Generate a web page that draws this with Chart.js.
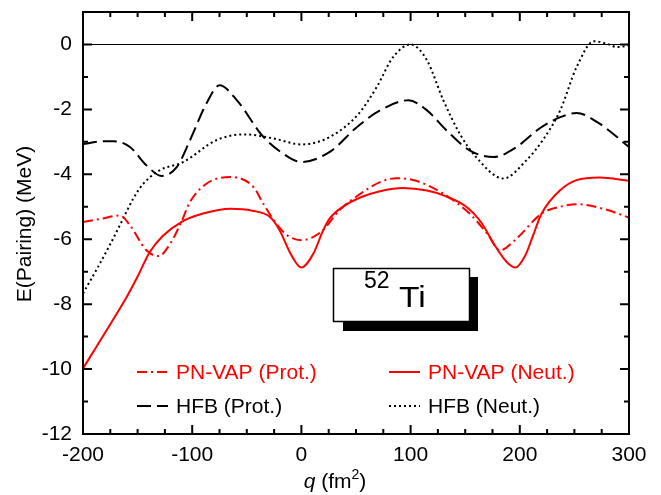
<!DOCTYPE html>
<html><head><meta charset="utf-8">
<script src="https://cdn.jsdelivr.net/npm/chart.js@4.4.0/dist/chart.umd.min.js"></script>
<style>html,body{margin:0;padding:0;background:#fff;}#wrap{width:661px;height:495px;}</style>
</head><body><div id="wrap"><canvas id="c" width="661" height="495"></canvas></div>
<script>
// ---- data ----
const xTickValues = [-200, -100, 0, 100, 200, 300];
const yTickValues = [-12, -10, -8, -6, -4, -2, 0];
const seriesLabels = ['PN-VAP (Prot.)', 'PN-VAP (Neut.)', 'HFB (Prot.)', 'HFB (Neut.)'];

const qVapP = [-200,-185,-166,-157,-142,-131,-120,-110,-102,-87,-65,-44,-35,-23,-13,0,18,35,54,72,87,105,130,154,170,182,197,220,237,252,276,300];
const eVapP = [-5.47,-5.38,-5.27,-5.57,-6.34,-6.52,-6.13,-5.47,-4.85,-4.29,-4.08,-4.39,-4.9,-5.52,-5.88,-6.03,-5.77,-5.1,-4.6,-4.24,-4.12,-4.2,-4.6,-5.21,-5.82,-6.34,-5.98,-5.21,-5.0,-4.92,-5.06,-5.33];

const qVapN = [-200,-188,-175,-160,-150,-139,-127,-110,-90,-65,-45,-29,-20,-10,0,11,20,26,38,55,72,93,115,130,151,165,176,188,196,205,212,220,237,252,273,300];
const eVapN = [-9.98,-9.33,-8.62,-7.78,-7.15,-6.4,-5.9,-5.47,-5.21,-5.06,-5.12,-5.31,-5.72,-6.44,-6.87,-6.44,-5.72,-5.36,-5.0,-4.7,-4.52,-4.42,-4.5,-4.65,-5.0,-5.5,-6.13,-6.7,-6.87,-6.5,-5.9,-5.21,-4.49,-4.18,-4.1,-4.2];

const qHfbP = [-200,-185,-172,-157,-142,-128,-114,-102,-87,-75,-59,-36,-19,0,26,51,72,98,115,133,154,176,197,218,237,252,273,300];
const eHfbP = [-3.07,-2.99,-2.98,-3.16,-3.72,-4.05,-3.77,-2.95,-1.82,-1.26,-1.72,-2.8,-3.31,-3.62,-3.31,-2.54,-2.03,-1.72,-2.03,-2.65,-3.26,-3.47,-3.16,-2.59,-2.24,-2.11,-2.44,-3.16];

const qHfbN = [-200,-187,-175,-163,-154,-145,-130,-108,-78,-52,-25,0,26,52,69,84,100,115,130,145,160,185,206,221,237,252,268,280,289,300];
const eHfbN = [-7.67,-6.9,-6.15,-5.35,-4.75,-4.3,-3.88,-3.62,-2.95,-2.77,-2.9,-3.08,-2.85,-2.15,-1.31,-0.39,0.0,-0.49,-1.72,-2.75,-3.47,-4.13,-3.57,-2.95,-2.03,-0.7,0.1,0.02,-0.08,-0.03];

const nucleusMass = '52';
const nucleusSymbol = 'Ti';

// ---- build ----
const toXY = (qs, es) => qs.map((q, i) => ({x: q, y: es[i]}));
const FONT = '"Liberation Sans", Arial, Helvetica, sans-serif';

const datasets = [
  {label: seriesLabels[0], data: toXY(qVapP, eVapP), borderColor: '#ff0000', borderWidth: 2, borderDash: [10,4,2,4]},
  {label: seriesLabels[1], data: toXY(qVapN, eVapN), borderColor: '#ff0000', borderWidth: 2, borderDash: []},
  {label: seriesLabels[2], data: toXY(qHfbP, eHfbP), borderColor: '#000000', borderWidth: 2, borderDash: [14,6]},
  {label: seriesLabels[3], data: toXY(qHfbN, eHfbN), borderColor: '#000000', borderWidth: 2, borderDash: [2,3]}
].map(d => Object.assign(d, {pointRadius: 0, fill: false, cubicInterpolationMode: 'monotone'}));

const framePlugin = {
  id: 'frame',
  beforeDatasetsDraw(chart) {
    const {ctx, chartArea: a, scales: {y}} = chart;
    ctx.save();
    ctx.strokeStyle = '#000'; ctx.lineWidth = 1;
    const py = Math.round(y.getPixelForValue(0)) + 0.5;
    ctx.beginPath(); ctx.moveTo(a.left, py); ctx.lineTo(a.right, py); ctx.stroke();
    ctx.restore();
  },
  afterDatasetsDraw(chart) {
    const {ctx, chartArea: a, scales: {x, y}} = chart;
    ctx.save();
    ctx.strokeStyle = '#000'; ctx.lineWidth = 2;
    ctx.strokeRect(a.left, a.top, a.right - a.left, a.bottom - a.top);
    ctx.beginPath();
    for (let v = x.min; v <= x.max + 1e-9; v += 25) {
      const px = x.getPixelForValue(v);
      const len = (Math.abs(v % 100) < 1e-9) ? 9 : 5;
      ctx.moveTo(px, a.bottom); ctx.lineTo(px, a.bottom - len);
      ctx.moveTo(px, a.top); ctx.lineTo(px, a.top + len);
    }
    for (let v = y.min; v <= y.max + 1e-9; v += 1) {
      const py = y.getPixelForValue(v);
      const len = (Math.abs(v % 2) < 1e-9) ? 9 : 5;
      ctx.moveTo(a.left, py); ctx.lineTo(a.left + len, py);
      ctx.moveTo(a.right, py); ctx.lineTo(a.right - len, py);
    }
    ctx.stroke();
    ctx.restore();
  },
  afterDraw(chart) {
    const {ctx} = chart;
    ctx.save();
    ctx.fillStyle = '#000';
    ctx.font = '21px ' + FONT;
    ctx.textAlign = 'center'; ctx.textBaseline = 'middle';
    ctx.save();
    ctx.translate(25, 224);
    ctx.rotate(-Math.PI / 2);
    ctx.fillText('E(Pairing) (MeV)', 0, 0);
    ctx.restore();
    const parts = [
      {t: 'q', f: 'italic 21px ' + FONT, dy: 0},
      {t: ' (fm', f: '21px ' + FONT, dy: 0},
      {t: '2', f: '14px ' + FONT, dy: -9},
      {t: ')', f: '21px ' + FONT, dy: 0}
    ];
    ctx.textAlign = 'left'; ctx.textBaseline = 'alphabetic';
    let w = 0;
    parts.forEach(p => { ctx.font = p.f; p.w = ctx.measureText(p.t).width; w += p.w; });
    let cx = 335 - w / 2;
    parts.forEach(p => { ctx.font = p.f; ctx.fillText(p.t, cx, 488 + p.dy); cx += p.w; });

    // legend
    const ds = chart.data.datasets;
    const cols = [137, 389], rows = [372, 406];
    ds.forEach((d, i) => {
      const lx = cols[i % 2], ly = rows[Math.floor(i / 2)];
      ctx.save();
      ctx.strokeStyle = d.borderColor; ctx.lineWidth = d.borderWidth;
      ctx.setLineDash(d.borderDash);
      ctx.beginPath(); ctx.moveTo(lx, ly); ctx.lineTo(lx + 31, ly); ctx.stroke();
      ctx.restore();
      ctx.fillStyle = d.borderColor;
      ctx.font = '21px ' + FONT;
      ctx.textBaseline = 'middle';
      ctx.fillText(d.label, lx + 39, ly + 1);
    });

    // nucleus label box with shadow
    ctx.fillStyle = '#000';
    ctx.fillRect(343, 277, 135, 54);
    ctx.fillStyle = '#fff';
    ctx.fillRect(333, 268, 137, 54);
    ctx.strokeStyle = '#000'; ctx.lineWidth = 1.5;
    ctx.strokeRect(333.5, 268.5, 136, 53);
    ctx.fillStyle = '#000';
    ctx.textBaseline = 'alphabetic';
    ctx.font = '23px ' + FONT;
    ctx.fillText(nucleusMass, 364, 288);
    ctx.save();
    ctx.translate(399, 307);
    ctx.scale(1.12, 1);
    ctx.font = '30px ' + FONT;
    ctx.fillText(nucleusSymbol, 0, 0);
    ctx.restore();
    ctx.restore();
  }
};

new Chart(document.getElementById('c'), {
  type: 'line',
  data: {datasets},
  options: {
    responsive: false,
    animation: false,
    devicePixelRatio: 1,
    layout: {padding: {left: 0, top: 12, right: 32, bottom: 0}},
    plugins: {legend: {display: false}, tooltip: {enabled: false}},
    scales: {
      x: {
        type: 'linear', min: -200, max: 300,
        afterBuildTicks: s => { s.ticks = xTickValues.map(v => ({value: v})); },
        afterFit: s => { s.height = 61; s.paddingLeft = 0; s.paddingRight = 0; },
        grid: {display: false, drawTicks: false},
        border: {display: false},
        ticks: {color: '#000', font: {size: 21, family: FONT}, padding: 9, maxRotation: 0, autoSkip: false,
                callback: v => String(v)}
      },
      y: {
        type: 'linear', min: -12, max: 1,
        afterBuildTicks: s => { s.ticks = yTickValues.map(v => ({value: v})); },
        afterFit: s => { s.width = 83; s.paddingTop = 0; s.paddingBottom = 0; },
        grid: {display: false, drawTicks: false},
        border: {display: false},
        ticks: {color: '#000', font: {size: 21, family: FONT}, padding: 11, autoSkip: false,
                callback: v => String(v)}
      }
    }
  },
  plugins: [framePlugin]
});
</script>
</body></html>
